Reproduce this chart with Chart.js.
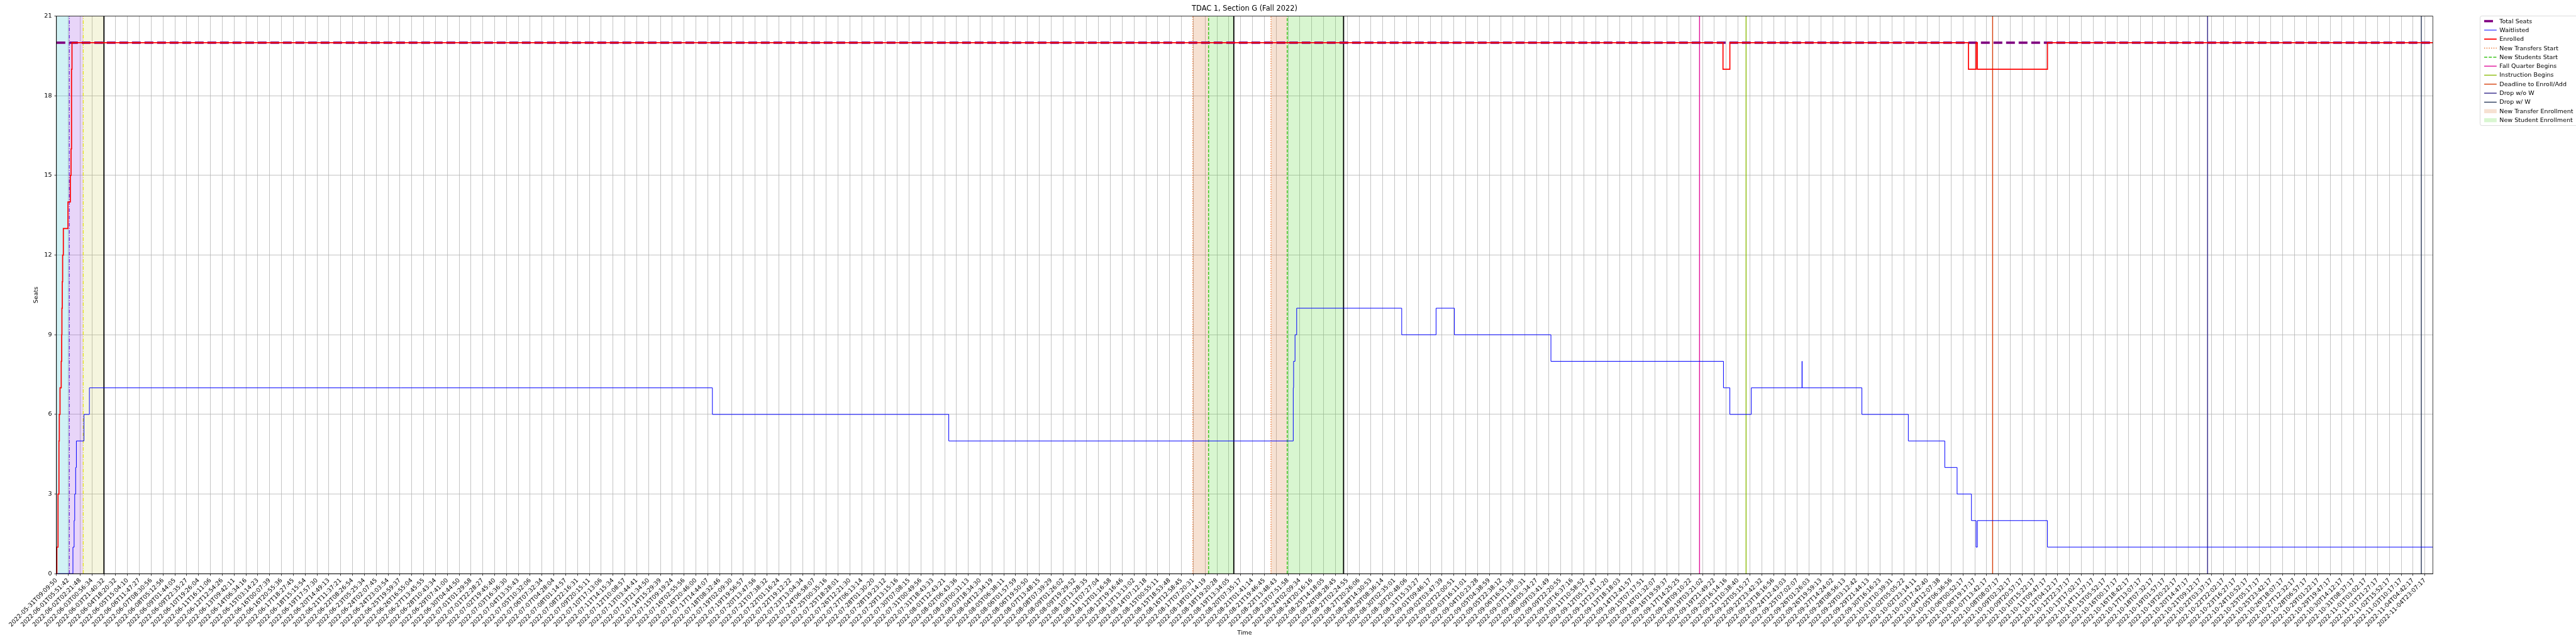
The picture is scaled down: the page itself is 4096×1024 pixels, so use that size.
<!DOCTYPE html>
<html>
<head>
<meta charset="utf-8">
<title>TDAC 1, Section G (Fall 2022)</title>
<script src="https://cdn.jsdelivr.net/npm/chart.js@4.4.1/dist/chart.umd.min.js"></script>
<style>
  html, body { margin: 0; padding: 0; background: #fff; }
  #wrap { width: 4096px; height: 1024px; }
</style>
</head>
<body>
<div id="wrap"><canvas id="seatsChart" width="4096" height="1024"></canvas></div>
<script>
// x is measured in tick slots: tick i sits at x = i
const tickLabels = [
  '2022-05-31T09:09:50', '2022-06-01T05:51:42', '2022-06-02T02:21:48', '2022-06-03T00:56:34',
  '2022-06-03T21:40:32', '2022-06-04T18:20:32', '2022-06-05T15:04:10', '2022-06-06T11:47:27',
  '2022-06-07T08:30:56', '2022-06-08T05:12:56', '2022-06-09T01:44:05', '2022-06-09T22:35:27',
  '2022-06-10T19:26:04', '2022-06-11T16:11:06', '2022-06-12T12:54:26', '2022-06-13T09:42:11',
  '2022-06-14T06:34:16', '2022-06-15T03:14:23', '2022-06-16T00:07:39', '2022-06-16T20:55:36',
  '2022-06-17T18:27:45', '2022-06-18T15:15:54', '2022-06-19T17:57:30', '2022-06-20T14:49:13',
  '2022-06-21T11:37:21', '2022-06-22T08:26:54', '2022-06-23T05:25:34', '2022-06-24T02:07:45',
  '2022-06-24T23:03:54', '2022-06-25T19:59:37', '2022-06-26T16:55:04', '2022-06-27T13:45:55',
  '2022-06-28T10:43:34', '2022-06-29T07:41:00', '2022-06-30T04:44:50', '2022-07-01T01:29:58',
  '2022-07-01T22:28:27', '2022-07-02T19:45:40', '2022-07-03T16:36:30', '2022-07-04T13:35:43',
  '2022-07-05T10:32:06', '2022-07-06T07:32:34', '2022-07-07T04:28:04', '2022-07-08T01:14:57',
  '2022-07-08T22:16:31', '2022-07-09T20:15:11', '2022-07-10T17:13:06', '2022-07-11T14:15:34',
  '2022-07-12T10:08:57', '2022-07-13T03:44:41', '2022-07-13T21:34:50', '2022-07-14T15:29:39',
  '2022-07-15T09:19:24', '2022-07-16T02:55:56', '2022-07-16T20:46:00', '2022-07-17T14:44:07',
  '2022-07-18T08:32:46', '2022-07-19T02:09:30', '2022-07-19T19:56:57', '2022-07-20T13:47:56',
  '2022-07-21T07:38:32', '2022-07-22T01:16:24', '2022-07-22T19:12:22', '2022-07-23T13:04:34',
  '2022-07-24T06:58:07', '2022-07-25T00:35:16', '2022-07-25T18:28:01', '2022-07-26T12:21:30',
  '2022-07-27T06:13:14', '2022-07-28T01:30:20', '2022-07-28T19:23:12', '2022-07-29T13:15:16',
  '2022-07-30T07:08:15', '2022-07-31T00:49:56', '2022-07-31T18:43:33', '2022-08-01T12:43:21',
  '2022-08-02T06:43:36', '2022-08-03T00:31:13', '2022-08-03T18:34:30', '2022-08-04T12:34:19',
  '2022-08-05T06:38:11', '2022-08-06T01:57:59', '2022-08-06T19:50:50', '2022-08-07T13:48:15',
  '2022-08-08T07:39:29', '2022-08-09T01:26:02', '2022-08-09T19:29:52', '2022-08-10T13:28:35',
  '2022-08-11T07:27:04', '2022-08-12T01:16:58', '2022-08-12T19:16:46', '2022-08-13T13:13:02',
  '2022-08-14T07:12:18', '2022-08-15T00:55:11', '2022-08-15T18:53:48', '2022-08-16T12:58:45',
  '2022-08-17T07:20:31', '2022-08-18T01:14:19', '2022-08-18T19:20:28', '2022-08-19T13:34:05',
  '2022-08-20T07:35:17', '2022-08-21T01:41:14', '2022-08-21T19:46:45', '2022-08-22T13:48:43',
  '2022-08-23T07:51:58', '2022-08-24T02:09:34', '2022-08-24T20:16:16', '2022-08-25T14:18:05',
  '2022-08-26T08:28:45', '2022-08-27T02:24:55', '2022-08-27T20:26:06', '2022-08-28T14:30:53',
  '2022-08-29T08:36:14', '2022-08-30T02:35:01', '2022-08-30T20:48:06', '2022-08-31T15:33:27',
  '2022-09-01T09:46:17', '2022-09-02T03:47:39', '2022-09-02T22:00:51', '2022-09-03T16:11:01',
  '2022-09-04T10:23:28', '2022-09-05T04:38:59', '2022-09-05T22:38:12', '2022-09-06T16:51:36',
  '2022-09-07T11:10:31', '2022-09-08T05:34:27', '2022-09-09T03:41:49', '2022-09-09T22:20:55',
  '2022-09-10T16:37:16', '2022-09-11T10:58:52', '2022-09-12T05:17:47', '2022-09-12T23:51:20',
  '2022-09-13T18:18:03', '2022-09-14T12:41:57', '2022-09-15T07:17:51', '2022-09-16T01:32:07',
  '2022-09-16T19:59:37', '2022-09-17T14:25:25', '2022-09-18T09:10:22', '2022-09-19T03:21:02',
  '2022-09-19T21:49:22', '2022-09-20T16:14:16', '2022-09-21T10:38:40', '2022-09-22T05:15:27',
  '2022-09-22T23:42:32', '2022-09-23T18:16:56', '2022-09-24T12:43:03', '2022-09-25T07:02:07',
  '2022-09-26T01:26:03', '2022-09-26T19:59:13', '2022-09-27T14:24:02', '2022-09-28T08:56:13',
  '2022-09-29T03:12:42', '2022-09-29T21:44:13', '2022-09-30T16:16:23', '2022-10-01T10:39:31',
  '2022-10-02T05:05:22', '2022-10-02T23:14:11', '2022-10-03T17:42:40', '2022-10-04T12:07:38',
  '2022-10-05T06:36:56', '2022-10-06T00:52:17',
  // from here on the labels were too small to read; estimated from the ~18h25m tick cadence
  '2022-10-06T19:17:17', '2022-10-07T13:42:17', '2022-10-08T08:07:17', '2022-10-09T02:32:17',
  '2022-10-09T20:57:17', '2022-10-10T15:22:17', '2022-10-11T09:47:17', '2022-10-12T04:12:17',
  '2022-10-12T22:37:17', '2022-10-13T17:02:17', '2022-10-14T11:27:17', '2022-10-15T05:52:17',
  '2022-10-16T00:17:17', '2022-10-16T18:42:17', '2022-10-17T13:07:17', '2022-10-18T07:32:17',
  '2022-10-19T01:57:17', '2022-10-19T20:22:17', '2022-10-20T14:47:17', '2022-10-21T09:12:17',
  '2022-10-22T03:37:17', '2022-10-22T22:02:17', '2022-10-23T16:27:17', '2022-10-24T10:52:17',
  '2022-10-25T05:17:17', '2022-10-25T23:42:17', '2022-10-26T18:07:17', '2022-10-27T12:32:17',
  '2022-10-28T06:57:17', '2022-10-29T01:22:17', '2022-10-29T19:47:17', '2022-10-30T14:12:17',
  '2022-10-31T08:37:17', '2022-11-01T03:02:17', '2022-11-01T21:27:17', '2022-11-02T15:52:17',
  '2022-11-03T10:17:17', '2022-11-04T04:42:17', '2022-11-04T23:07:17'
];
const endT = 200.67;

// step series: value holds from x until the next x
const enrolledX = [0, 0.03, 0.13, 0.21, 0.24, 0.30, 0.40, 0.44, 0.46, 0.49, 0.52, 0.58, 0.97, 1.17, 1.23, 1.27, 1.31,
  140.73, 141.31, 161.46, 162.10, 162.21, 168.13, endT];
const enrolledSeats = [0, 1, 3, 5, 6, 7, 8, 9, 10, 11, 12, 13, 14, 15, 16, 19, 20,
  19, 20, 19, 20, 19, 20, 20];

const waitlistX = [0, 1.39, 1.49, 1.54, 1.62, 1.68, 2.32, 2.78, 55.39, 75.35, 104.44, 104.47, 104.59, 104.73,
  113.6, 116.5, 118.05, 126.2, 140.77, 141.31, 143.12, 147.40, 147.42, 152.46, 156.38, 159.46, 160.50,
  161.71, 162.10, 162.21, 168.13, endT];
const waitlistSeats = [0, 1, 2, 3, 4, 5, 6, 7, 6, 5, 7, 8, 9, 10,
  9, 10, 9, 8, 7, 6, 7, 8, 7, 6, 5, 4, 3,
  2, 1, 2, 1, 1];

const totalSeatsX = [0, endT];
const totalSeats = [20, 20];

// event markers (x in tick slots)
const newTransfersStart = [95.96, 102.56];
const newStudentsStart = [97.29, 103.93];
const fallQuarterBegins = [138.75];
const instructionBegins = [142.68];
const enrollDeadline = [163.50];
const dropNoW = [181.65];
const dropWithW = [199.7];
const passMarksViolet = [1.09];
const passMarksYellow = [2.26];
const periodEnds = [4.01, 99.42, 108.69];

// shaded windows [start, end]
const transferEnrollment = [[95.96, 97.29], [102.56, 103.93]];
const studentEnrollment = [[97.29, 99.42], [103.93, 108.69]];
const firstPass = [[0, 1.03]];
const secondPass = [[1.03, 2.26]];
const thirdPass = [[2.26, 4.01]];

const FONT = 'DejaVu Sans';
const Y_MAX = 21;

function toPoints(xs, ys) {
    return xs.map((x, i) => ({ x: x, y: ys[i] }));
}

function vlines(xs, label, color, width, dash, order) {
    return xs.map(x => ({
        label: label,
        data: [{ x: x, y: 0 }, { x: x, y: Y_MAX }],
        borderColor: color,
        borderWidth: width,
        borderDash: dash,
        pointRadius: 0,
        fill: false,
        order: order
    }));
}

function spans(ranges, label, color) {
    return ranges.map(r => ({
        label: label,
        data: [{ x: r[0], y: Y_MAX }, { x: r[1], y: Y_MAX }],
        borderWidth: 0,
        borderColor: 'rgba(0,0,0,0)',
        backgroundColor: color,
        pointRadius: 0,
        fill: 'origin',
        order: 20
    }));
}

var datasets = [
    {
        label: 'Enrolled',
        data: toPoints(enrolledX, enrolledSeats),
        borderColor: '#ff0000',
        borderWidth: 1.7,
        stepped: true,
        pointRadius: 0,
        fill: false,
        order: 0
    },
    {
        label: 'Waitlisted',
        data: toPoints(waitlistX, waitlistSeats),
        borderColor: '#0000ff',
        borderWidth: 1,
        stepped: true,
        pointRadius: 0,
        fill: false,
        order: 1
    },
    {
        label: 'Total Seats',
        data: toPoints(totalSeatsX, totalSeats),
        borderColor: '#800080',
        borderWidth: 3.6,
        borderDash: [14, 6],
        pointRadius: 0,
        fill: false,
        order: 2
    }
];
datasets = datasets.concat(
    vlines(newTransfersStart, 'New Transfers Start', '#ec7028', 1.4, [1.4, 2.3], 5),
    vlines(newStudentsStart, 'New Students Start', '#3cc41c', 1.5, [5, 2.2], 5),
    vlines(fallQuarterBegins, 'Fall Quarter Begins', '#e0139a', 1.4, [], 5),
    vlines(instructionBegins, 'Instruction Begins', '#8cbc0c', 1.4, [], 5),
    vlines(enrollDeadline, 'Deadline to Enroll/Add', '#d6400c', 1.4, [], 5),
    vlines(dropNoW, 'Drop w/o W', '#33288a', 1.4, [], 5),
    vlines(dropWithW, 'Drop w/ W', '#2b3a5a', 1.4, [], 5),
    vlines(passMarksViolet, '', '#7030d8', 1.4, [6, 2, 1.5, 2], 6),
    vlines(passMarksYellow, '', '#e4e420', 1.4, [6, 2, 1.5, 2], 6),
    vlines(periodEnds, '', '#000000', 1.8, [], 6),
    spans(transferEnrollment, 'New Transfer Enrollment', 'rgba(210,105,30,0.2)'),
    spans(studentEnrollment, 'New Student Enrollment', 'rgba(60,210,20,0.2)'),
    spans(firstPass, '', 'rgba(23,190,207,0.2)'),
    spans(secondPass, '', 'rgba(138,43,226,0.2)'),
    spans(thirdPass, '', 'rgba(188,189,34,0.15)')
);

const legendItems = [
    { label: 'Total Seats', kind: 'line', color: '#800080', width: 3.6, dash: [14, 6] },
    { label: 'Waitlisted', kind: 'line', color: '#0000ff', width: 1, dash: [] },
    { label: 'Enrolled', kind: 'line', color: '#ff0000', width: 1.8, dash: [] },
    { label: 'New Transfers Start', kind: 'line', color: '#ec7028', width: 1.4, dash: [1.4, 2.3] },
    { label: 'New Students Start', kind: 'line', color: '#3cc41c', width: 1.5, dash: [5, 2.2] },
    { label: 'Fall Quarter Begins', kind: 'line', color: '#e0139a', width: 1.4, dash: [] },
    { label: 'Instruction Begins', kind: 'line', color: '#8cbc0c', width: 1.4, dash: [] },
    { label: 'Deadline to Enroll/Add', kind: 'line', color: '#d6400c', width: 1.4, dash: [] },
    { label: 'Drop w/o W', kind: 'line', color: '#33288a', width: 1.4, dash: [] },
    { label: 'Drop w/ W', kind: 'line', color: '#2b3a5a', width: 1.4, dash: [] },
    { label: 'New Transfer Enrollment', kind: 'patch', color: 'rgba(210,105,30,0.2)' },
    { label: 'New Student Enrollment', kind: 'patch', color: 'rgba(60,210,20,0.2)' }
];

// frame, title and legend in matplotlib style
const decorPlugin = {
    id: 'decor',
    afterDatasetsDraw(chart) {
        const ctx = chart.ctx;
        const a = chart.chartArea;
        ctx.save();
        ctx.strokeStyle = '#000';
        ctx.lineWidth = 0.75;
        ctx.strokeRect(a.left, a.top, a.right - a.left, a.bottom - a.top);
        ctx.restore();
    },
    afterDraw(chart) {
        const ctx = chart.ctx;
        const a = chart.chartArea;
        ctx.save();
        ctx.fillStyle = '#000';
        ctx.font = '11.4px "' + FONT + '"';
        ctx.textAlign = 'center';
        ctx.textBaseline = 'middle';
        ctx.fillText('TDAC 1, Section G (Fall 2022)', (a.left + a.right) / 2, 14.5);

        // legend box
        const bx = 3943.5, by = 25.4, bh = 174.2;
        ctx.beginPath();
        ctx.roundRect(bx, by, 200, bh, 2.7);
        ctx.fillStyle = 'rgba(255,255,255,0.8)';
        ctx.fill();
        ctx.strokeStyle = '#cccccc';
        ctx.lineWidth = 0.7;
        ctx.stroke();

        const hx0 = 3950, hx1 = 3969.8, tx = 3974.3;
        ctx.font = '9.55px "' + FONT + '"';
        ctx.textAlign = 'left';
        legendItems.forEach((it, i) => {
            const cy = 33.6 + i * 14.32;
            if (it.kind === 'patch') {
                ctx.fillStyle = it.color;
                ctx.fillRect(hx0, cy - 3.2, hx1 - hx0, 6.4);
            } else {
                ctx.beginPath();
                ctx.setLineDash(it.dash);
                ctx.strokeStyle = it.color;
                ctx.lineWidth = it.width;
                ctx.moveTo(hx0, cy);
                ctx.lineTo(hx1, cy);
                ctx.stroke();
                ctx.setLineDash([]);
            }
            ctx.fillStyle = '#000';
            ctx.fillText(it.label, tx, cy + 0.5);
        });
        ctx.restore();
    }
};

var seatsChart = new Chart(document.getElementById('seatsChart'), {
    type: 'line',
    data: { datasets: datasets },
    options: {
        responsive: false,
        devicePixelRatio: 1,
        animation: false,
        events: [],
        layout: { padding: { left: 0, top: 25.7, right: 227.7, bottom: 0 } },
        plugins: {
            legend: { display: false },
            title: { display: false },
            tooltip: { enabled: false }
        },
        scales: {
            x: {
                type: 'linear',
                min: 0,
                max: endT,
                afterBuildTicks: function (scale) {
                    scale.ticks = tickLabels.map((_, i) => ({ value: i }));
                },
                afterFit: function (scale) { scale.height = 1024 - 912.2; },
                ticks: {
                    autoSkip: false,
                    minRotation: 45,
                    maxRotation: 45,
                    padding: 2,
                    color: '#000',
                    font: { family: FONT, size: 9.55 },
                    callback: function (value) { return tickLabels[Math.round(value)] || ''; }
                },
                grid: { color: '#b0b0b0', lineWidth: 0.75, tickLength: 3.3, tickColor: '#000', tickWidth: 0.75 },
                border: { color: '#000', width: 0.75 },
                title: {
                    display: true,
                    text: 'Time',
                    color: '#000',
                    font: { family: FONT, size: 9.55 },
                    padding: { top: 0, bottom: 11.7 }
                }
            },
            y: {
                min: 0,
                max: Y_MAX,
                afterFit: function (scale) { scale.width = 89.8; },
                ticks: {
                    stepSize: 3,
                    padding: 4,
                    color: '#000',
                    font: { family: FONT, size: 9.55 }
                },
                grid: { color: '#b0b0b0', lineWidth: 0.75, tickLength: 3.3, tickColor: '#000', tickWidth: 0.75 },
                border: { color: '#000', width: 0.75 },
                title: {
                    display: true,
                    text: 'Seats',
                    color: '#000',
                    font: { family: FONT, size: 9.55 },
                    padding: { top: 51.3, bottom: 0 }
                }
            }
        }
    },
    plugins: [decorPlugin]
});
</script>
</body>
</html>
